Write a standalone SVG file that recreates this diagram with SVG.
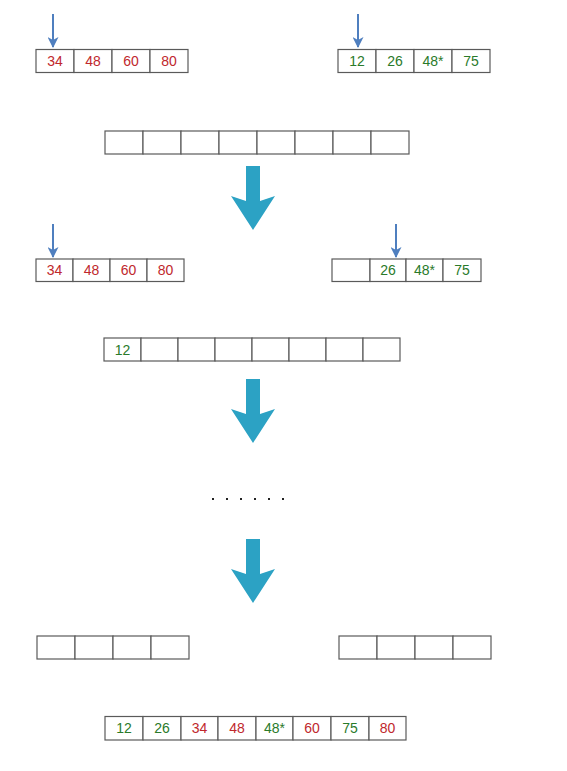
<svg xmlns="http://www.w3.org/2000/svg" width="567" height="771" viewBox="0 0 567 771">
<style>
.c{fill:#fff;stroke:#5a5a5a;stroke-width:1.2}
.r{fill:#c0282d}
.g{fill:#2a7a2a}
text{font-family:"Liberation Sans",Arial,sans-serif;font-size:14px;text-anchor:middle}
.p{stroke:#4f7fbf;stroke-width:2;fill:none}
.big{fill:#2ca2c4}
</style>
<defs>
<marker id="ah" markerWidth="11" markerHeight="11" refX="10" refY="5.5" orient="auto" markerUnits="userSpaceOnUse" viewBox="0 0 11 11">
<path d="M0,0 L11,5.5 L0,11 L3,5.5 Z" fill="#4f7fbf"/>
</marker>
<path id="bigarrow" d="M-7,0 H7 V35 L22,30 L0,64 L-22,30 L-7,35 Z"/>
</defs>
<rect width="567" height="771" fill="#fff"/>

<g id="row1-left">
<rect class="c" x="36" y="49.5" width="38" height="23"/><rect class="c" x="74" y="49.5" width="38" height="23"/><rect class="c" x="112" y="49.5" width="38" height="23"/><rect class="c" x="150" y="49.5" width="38" height="23"/>
<text class="r" x="55" y="66">34</text><text class="r" x="93" y="66">48</text><text class="r" x="131" y="66">60</text><text class="r" x="169" y="66">80</text>
</g>
<g id="row1-right">
<rect class="c" x="338" y="49.5" width="38" height="23"/><rect class="c" x="376" y="49.5" width="38" height="23"/><rect class="c" x="414" y="49.5" width="38" height="23"/><rect class="c" x="452" y="49.5" width="38" height="23"/>
<text class="g" x="357" y="66">12</text><text class="g" x="395" y="66">26</text><text class="g" x="433" y="66">48*</text><text class="g" x="471" y="66">75</text>
</g>
<g id="row2">
<rect class="c" x="105" y="131" width="38" height="23"/><rect class="c" x="143" y="131" width="38" height="23"/><rect class="c" x="181" y="131" width="38" height="23"/><rect class="c" x="219" y="131" width="38" height="23"/><rect class="c" x="257" y="131" width="38" height="23"/><rect class="c" x="295" y="131" width="38" height="23"/><rect class="c" x="333" y="131" width="38" height="23"/><rect class="c" x="371" y="131" width="38" height="23"/>
</g>
<g id="row3-left">
<rect class="c" x="36" y="259" width="37" height="22.5"/><rect class="c" x="73" y="259" width="37" height="22.5"/><rect class="c" x="110" y="259" width="37" height="22.5"/><rect class="c" x="147" y="259" width="37" height="22.5"/>
<text class="r" x="54.5" y="275">34</text><text class="r" x="91.5" y="275">48</text><text class="r" x="128.5" y="275">60</text><text class="r" x="165.5" y="275">80</text>
</g>
<g id="row3-right">
<rect class="c" x="332" y="259" width="38" height="22.5"/><rect class="c" x="370" y="259" width="36" height="22.5"/><rect class="c" x="406" y="259" width="37" height="22.5"/><rect class="c" x="443" y="259" width="38" height="22.5"/>
<text class="g" x="388" y="275">26</text><text class="g" x="424.5" y="275">48*</text><text class="g" x="462" y="275">75</text>
</g>
<g id="row4">
<rect class="c" x="104" y="338" width="37" height="23"/><rect class="c" x="141" y="338" width="37" height="23"/><rect class="c" x="178" y="338" width="37" height="23"/><rect class="c" x="215" y="338" width="37" height="23"/><rect class="c" x="252" y="338" width="37" height="23"/><rect class="c" x="289" y="338" width="37" height="23"/><rect class="c" x="326" y="338" width="37" height="23"/><rect class="c" x="363" y="338" width="37" height="23"/>
<text class="g" x="122.5" y="354.5">12</text>
</g>
<g id="dots" fill="#222">
<rect x="212" y="498" width="2" height="2"/><rect x="226" y="498" width="2" height="2"/><rect x="240" y="498" width="2" height="2"/><rect x="254" y="498" width="2" height="2"/><rect x="268" y="498" width="2" height="2"/><rect x="282" y="498" width="2" height="2"/>
</g>
<g id="row5-left">
<rect class="c" x="37" y="636" width="38" height="23"/><rect class="c" x="75" y="636" width="38" height="23"/><rect class="c" x="113" y="636" width="38" height="23"/><rect class="c" x="151" y="636" width="38" height="23"/>
</g>
<g id="row5-right">
<rect class="c" x="339" y="636" width="38" height="23"/><rect class="c" x="377" y="636" width="38" height="23"/><rect class="c" x="415" y="636" width="38" height="23"/><rect class="c" x="453" y="636" width="38" height="23"/>
</g>
<g id="row6">
<rect class="c" x="105" y="716.5" width="38" height="23.5"/><rect class="c" x="143" y="716.5" width="38" height="23.5"/><rect class="c" x="181" y="716.5" width="37" height="23.5"/><rect class="c" x="218" y="716.5" width="38" height="23.5"/><rect class="c" x="256" y="716.5" width="37" height="23.5"/><rect class="c" x="293" y="716.5" width="38" height="23.5"/><rect class="c" x="331" y="716.5" width="38" height="23.5"/><rect class="c" x="369" y="716.5" width="37" height="23.5"/>
<text class="g" x="124" y="733">12</text><text class="g" x="162" y="733">26</text><text class="r" x="199.5" y="733">34</text><text class="r" x="237" y="733">48</text><text class="g" x="274.5" y="733">48*</text><text class="r" x="312" y="733">60</text><text class="g" x="350" y="733">75</text><text class="r" x="387.5" y="733">80</text>
</g>
<g id="connectors">
<line class="p" x1="53" y1="14" x2="53" y2="47" marker-end="url(#ah)"/>
<line class="p" x1="358" y1="14" x2="358" y2="47" marker-end="url(#ah)"/>
<line class="p" x1="53" y1="224" x2="53" y2="257" marker-end="url(#ah)"/>
<line class="p" x1="396" y1="224" x2="396" y2="257" marker-end="url(#ah)"/>
<use href="#bigarrow" class="big" x="253" y="166"/>
<use href="#bigarrow" class="big" x="253" y="379"/>
<use href="#bigarrow" class="big" x="253" y="539"/>
</g>
</svg>
